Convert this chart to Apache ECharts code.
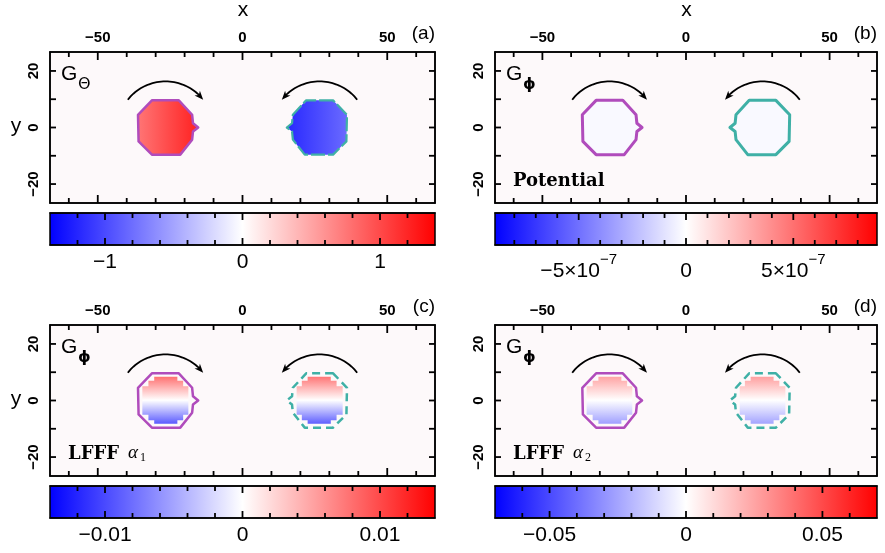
<!DOCTYPE html>
<html><head><meta charset="utf-8">
<script src="https://cdn.jsdelivr.net/npm/echarts@6/dist/echarts.min.js"></script>
<style>html,body{margin:0;padding:0;background:#fff}#c{width:885px;height:553px}</style>
</head><body><div id="c"></div>
<script>
// ---------- data ----------
const panelLetters = ['(a)', '(b)', '(c)', '(d)'];
const fieldSubs = ['Θ', 'ϕ', 'ϕ', 'ϕ'];
const methodNames = ['', 'Potential', 'LFFF', 'LFFF'];
const methodAlphaSub = ['', '', '1', '2'];
const xRange = [-66.5, 66.5];
const yRange = [-26.7, 26.7];
const xMajorTicks = [-50, 0, 50];
const xMinorTicks = [-60, -40, -30, -20, -10, 10, 20, 30, 40, 60];
const yTickValues = [-20, -10, 0, 10, 20];
const yLabelValues = [-20, 0, 20];
const cbMax = [1.4, 8.9e-7, 0.014, 0.07];
const cbMajor = [[-1, 0, 1], [-5e-7, 0, 5e-7], [-0.01, 0, 0.01], [-0.05, 0, 0.05]];
const cbMinor = [
  [-1.2, -0.8, -0.6, -0.4, -0.2, 0.2, 0.4, 0.6, 0.8, 1.2],
  [-8e-7, -7e-7, -6e-7, -4e-7, -3e-7, -2e-7, -1e-7, 1e-7, 2e-7, 3e-7, 4e-7, 6e-7, 7e-7, 8e-7],
  [-0.012, -0.008, -0.006, -0.004, -0.002, 0.002, 0.004, 0.006, 0.008, 0.012],
  [-0.06, -0.04, -0.03, -0.02, -0.01, 0.01, 0.02, 0.03, 0.04, 0.06]
];
// vortex boundaries (x, y)
const vortexLeft = [[-31.3, 9.6], [-22.0, 9.6], [-17.4, 4.5], [-17.1, 1.5], [-15.3, 0], [-17.1, -1.4], [-17.4, -4.3], [-21.5, -9.6], [-31.3, -9.6], [-35.9, -4.9], [-36.1, 4.5]];
const vortexRight = [[31.3, 9.6], [22.0, 9.6], [17.4, 4.5], [17.1, 1.5], [15.3, 0], [17.1, -1.4], [17.4, -4.3], [21.5, -9.6], [31.3, -9.6], [35.9, -4.9], [36.1, 4.5]];
// interior region where the field is non-zero for the LFFF panels
const innerLeft = [[-30.5, 8.4], [-22.5, 8.4], [-22.5, 7], [-20.5, 7], [-20.5, 5], [-18.7, 5], [-18.7, -5], [-20.5, -5], [-20.5, -7], [-22.5, -7], [-22.5, -8.2], [-30.5, -8.2], [-30.5, -7], [-32.5, -7], [-32.5, -5], [-34.6, -5], [-34.6, 5], [-32.5, 5], [-32.5, 7], [-30.5, 7]];
const innerRight = [[30.5, 8.4], [22.5, 8.4], [22.5, 7], [20.5, 7], [20.5, 5], [18.7, 5], [18.7, -5], [20.5, -5], [20.5, -7], [22.5, -7], [22.5, -8.2], [30.5, -8.2], [30.5, -7], [32.5, -7], [32.5, -5], [34.6, -5], [34.6, 5], [32.5, 5], [32.5, 7], [30.5, 7]];
// field values at the two ends of each vortex gradient: [start, end]
// (a): horizontal left->right ; (b): uniform ; (c),(d): vertical top->bottom through 0
const fieldLeft = [[0.76, 1.22], [-2e-8, -2e-8], [0.0078, -0.009], [0.025, -0.026]];
const fieldRight = [[-1.18, -0.82], [-2e-8, -2e-8], [0.0075, -0.0088], [0.026, -0.025]];
const gradDir = ['h', 'h', 'v', 'v'];
// rotation arrows: center x, center y, radius, start angle, end angle (deg)
const arcLeft = [-26.6, 0, 16.3, 143, 37];
const arcRight = [26.6, 0, 16.3, 37, 143];

// ---------- layout ----------
const mainGrids = [
  {left: 50, top: 52, width: 385, height: 151},
  {left: 495, top: 52, width: 382, height: 151},
  {left: 50, top: 325, width: 385, height: 151},
  {left: 495, top: 325, width: 382, height: 151}
];
const cbGrids = [
  {left: 50, top: 213, width: 385, height: 32},
  {left: 495, top: 213, width: 382, height: 32},
  {left: 50, top: 486, width: 385, height: 32},
  {left: 495, top: 486, width: 382, height: 32}
];
const SANS = 'Liberation Sans, Arial, sans-serif';
const MAG = '#b04cbc', TEAL = '#3fb0a6';

function cmap(v, M) {
  const t = Math.max(-1, Math.min(1, v / M));
  if (t >= 0) { const g = Math.round(255 * (1 - t)); return 'rgb(255,' + g + ',' + g + ')'; }
  const g = Math.round(255 * (1 + t)); return 'rgb(' + g + ',' + g + ',255)';
}
const minus = v => String(v).replace('-', '−');

const grids = [];
const xAxes = [];
const yAxes = [];
const series = [];
const graphics = [];

function xAx(gridIndex, min, max, pos, label) {
  return {
    type: 'value', gridIndex, min, max, position: pos, z: 10,
    splitLine: {show: false},
    axisLine: {show: true, onZero: false, lineStyle: {color: '#000', width: 1.5}},
    axisTick: {show: false},
    axisLabel: label ? Object.assign({show: true}, label) : {show: false}
  };
}

// grids: 0-3 main plots, 4-7 colorbars
for (let i = 0; i < 4; i++) grids.push(Object.assign({show: true, borderColor: '#000', borderWidth: 1.5, backgroundColor: '#fdf9fa'}, mainGrids[i]));
for (let i = 0; i < 4; i++) grids.push(Object.assign({show: false}, cbGrids[i]));

// main axes: xAxis 2i (top, labels), 2i+1 (bottom); yAxis 2i (left), 2i+1 (right)
for (let i = 0; i < 4; i++) {
  xAxes.push(xAx(i, xRange[0], xRange[1], 'top', {
    customValues: xMajorTicks, margin: 7, fontFamily: SANS, fontWeight: 'bold', fontSize: 15, color: '#000', formatter: minus
  }));
  xAxes.push(xAx(i, xRange[0], xRange[1], 'bottom', null));
  const yBase = {
    type: 'value', gridIndex: i, min: yRange[0], max: yRange[1], z: 10,
    splitLine: {show: false},
    axisLine: {show: true, onZero: false, lineStyle: {color: '#000', width: 1.5}},
    axisTick: {show: false}
  };
  yAxes.push(Object.assign({}, yBase, {position: 'left',
    axisLabel: {show: true, customValues: yLabelValues, rotate: 90, margin: 9, fontFamily: SANS, fontWeight: 'bold', fontSize: 15, color: '#000', formatter: minus}}));
  yAxes.push(Object.assign({}, yBase, {position: 'right', axisLabel: {show: false}}));
}
// colorbar axes: xAxis 8+2i (top), 9+2i (bottom, labels); yAxis 8+i
for (let i = 0; i < 4; i++) {
  const M = cbMax[i];
  const label = {customValues: cbMajor[i], margin: 7, fontFamily: SANS, fontSize: 21, color: '#000', formatter: minus};
  if (i === 1) {
    label.formatter = function (v) {
      if (Math.abs(v) < 1e-15) return '{n|0}';
      return '{n|' + (v < 0 ? '−' : '') + '5×10}{s|−7}';
    };
    label.rich = {
      n: {fontFamily: SANS, fontSize: 21, color: '#000', lineHeight: 30, verticalAlign: 'bottom'},
      s: {fontFamily: SANS, fontSize: 15, color: '#000', lineHeight: 30, verticalAlign: 'top'}
    };
  }
  xAxes.push(xAx(4 + i, -M, M, 'top', null));
  xAxes.push(xAx(4 + i, -M, M, 'bottom', label));
  yAxes.push({type: 'value', gridIndex: 4 + i, min: 0, max: 1, show: false});
}

// tick marks drawn inward on the frame as thin filled bars, positioned by the axis scales
function tickSeries(xIdx, yIdx, yLo, yHi, xLo, xHi, xMajor, xMinor, majLen, minLen, yTicks, yLen) {
  return {
    type: 'custom', xAxisIndex: xIdx, yAxisIndex: yIdx, silent: true, z: 30, data: [[(xLo + xHi) / 2, (yLo + yHi) / 2]],
    renderItem: function (params, api) {
      const ch = [];
      const hw = 0.9;
      const vbar = (x, y0, y1) => ({type: 'polygon', shape: {points: [[x - hw, y0], [x + hw, y0], [x + hw, y1], [x - hw, y1]]}, style: {fill: '#000'}});
      const hbar = (y, x0, x1) => ({type: 'polygon', shape: {points: [[x0, y - hw], [x1, y - hw], [x1, y + hw], [x0, y + hw]]}, style: {fill: '#000'}});
      const addX = (v, len) => {
        const t = api.coord([v, yHi]), b = api.coord([v, yLo]);
        ch.push(vbar(t[0], t[1], t[1] + len));
        ch.push(vbar(b[0], b[1] - len, b[1]));
      };
      xMajor.forEach(v => addX(v, majLen));
      xMinor.forEach(v => addX(v, minLen));
      (yTicks || []).forEach(v => {
        const l = api.coord([xLo, v]), r = api.coord([xHi, v]);
        ch.push(hbar(l[1], l[0], l[0] + yLen));
        ch.push(hbar(r[1], r[0] - yLen, r[0]));
      });
      return {type: 'group', children: ch};
    }
  };
}

// colorbar series
for (let i = 0; i < 4; i++) {
  const M = cbMax[i];
  series.push({
    type: 'custom', xAxisIndex: 8 + 2 * i, yAxisIndex: 8 + i, silent: true, z: 1, data: [[0, 0.5]],
    renderItem: function (params, api) {
      const p0 = api.coord([-M, 1]);
      const p1 = api.coord([M, 0]);
      return {
        type: 'rect',
        shape: {x: p0[0], y: p0[1], width: p1[0] - p0[0], height: p1[1] - p0[1]},
        style: {
          fill: new echarts.graphic.LinearGradient(0, 0, 1, 0, [
            {offset: 0, color: cmap(-M, M)}, {offset: 0.5, color: cmap(0, M)}, {offset: 1, color: cmap(M, M)}
          ]),
          stroke: '#000', lineWidth: 1.5
        }
      };
    }
  });
  series.push(tickSeries(8 + 2 * i, 8 + i, 0, 1, -M, M, cbMajor[i], cbMinor[i], 7, 5, null, 0));
}

function fillStyle(i, vals) {
  const M = cbMax[i];
  if (gradDir[i] === 'h') {
    return new echarts.graphic.LinearGradient(0, 0, 1, 0, [
      {offset: 0, color: cmap(vals[0], M)}, {offset: 1, color: cmap(vals[1], M)}
    ]);
  }
  return new echarts.graphic.LinearGradient(0, 0, 0, 1, [
    {offset: 0, color: cmap(vals[0], M)}, {offset: 0.5, color: cmap(0, M)}, {offset: 1, color: cmap(vals[1], M)}
  ]);
}

function polySeries(i, pts, style, z) {
  return {
    type: 'custom', xAxisIndex: 2 * i, yAxisIndex: 2 * i, silent: true, z: z, data: [[pts[0][0], pts[0][1]]],
    renderItem: function (params, api) {
      return {type: 'polygon', shape: {points: pts.map(p => api.coord(p))}, style: style};
    }
  };
}

function arcSeries(i, arc) {
  return {
    type: 'custom', xAxisIndex: 2 * i, yAxisIndex: 2 * i, silent: true, z: 5, data: [[arc[0], arc[1]]],
    renderItem: function (params, api) {
      const N = 40, pts = [];
      for (let k = 0; k <= N; k++) {
        const a = (arc[3] + (arc[4] - arc[3]) * k / N) * Math.PI / 180;
        pts.push(api.coord([arc[0] + arc[2] * Math.cos(a), arc[1] + arc[2] * Math.sin(a)]));
      }
      const tip = pts[N], prev = pts[N - 3];
      let dx = tip[0] - prev[0], dy = tip[1] - prev[1];
      const L = Math.hypot(dx, dy); dx /= L; dy /= L;
      const bx = tip[0] - dx * 9, by = tip[1] - dy * 9;
      const head = [tip, [bx - dy * 3.6, by + dx * 3.6], [tip[0] - dx * 6.5, tip[1] - dy * 6.5], [bx + dy * 3.6, by - dx * 3.6]];
      return {
        type: 'group', children: [
          {type: 'polyline', shape: {points: pts.slice(0, N - 1)}, style: {stroke: '#000', lineWidth: 1.8, fill: null}},
          {type: 'polygon', shape: {points: head}, style: {fill: '#000'}}
        ]
      };
    }
  };
}

for (let i = 0; i < 4; i++) {
  const lfff = (i >= 2);
  const fillL = lfff ? innerLeft : vortexLeft;
  const fillR = lfff ? innerRight : vortexRight;
  series.push(polySeries(i, fillL, {fill: fillStyle(i, fieldLeft[i])}, 2));
  series.push(polySeries(i, fillR, {fill: fillStyle(i, fieldRight[i])}, 2));
  const lw = (i === 1) ? 3 : 2.5;
  series.push(polySeries(i, vortexLeft, {fill: null, stroke: MAG, lineWidth: lw, lineJoin: 'round'}, 3));
  series.push(polySeries(i, vortexRight, {
    fill: null, stroke: TEAL, lineWidth: (i === 0 ? 2.2 : lw), lineJoin: 'round',
    lineDash: lfff ? [8, 5] : (i === 0 ? [14, 3] : null)
  }, 3));
  series.push(arcSeries(i, arcLeft));
  series.push(arcSeries(i, arcRight));
  series.push(tickSeries(2 * i, 2 * i, yRange[0], yRange[1], xRange[0], xRange[1], xMajorTicks, xMinorTicks, 8, 5, yTickValues, 6));

  const g = mainGrids[i];
  graphics.push({type: 'text', style: {text: panelLetters[i], x: g.left + g.width, y: g.top - 18, textAlign: 'right', textVerticalAlign: 'middle', font: '19px ' + SANS, fill: '#000'}});
  if (i < 2) graphics.push({type: 'text', style: {text: 'x', x: g.left + g.width / 2 + 0.5, y: g.top - 42, textAlign: 'center', textVerticalAlign: 'middle', font: '21px ' + SANS, fill: '#000'}});
  if (i % 2 === 0) graphics.push({type: 'text', style: {text: 'y', x: 16, y: g.top + g.height / 2 - 1, textAlign: 'center', textVerticalAlign: 'middle', font: '21px ' + SANS, fill: '#000'}});
  graphics.push({type: 'text', style: {text: 'G', x: g.left + 11, y: g.top + 22, textAlign: 'left', textVerticalAlign: 'middle', font: '21px ' + SANS, fill: '#000'}});
  graphics.push({type: 'text', style: {text: fieldSubs[i], x: g.left + 28, y: g.top + 33, textAlign: 'left', textVerticalAlign: 'middle', font: (i === 0 ? '' : 'bold ') + '16px DejaVu Sans, sans-serif', fill: '#000'}});
  if (methodNames[i]) {
    graphics.push({type: 'text', style: {text: methodNames[i], x: g.left + 18, y: g.top + 129, textAlign: 'left', textVerticalAlign: 'middle', font: 'bold 18px DejaVu Serif, serif', fill: '#000'}});
  }
  if (methodAlphaSub[i]) {
    graphics.push({type: 'text', style: {text: 'α', x: g.left + 78, y: g.top + 128, textAlign: 'left', textVerticalAlign: 'middle', font: 'italic 19px Liberation Serif, serif', fill: '#000'}});
    graphics.push({type: 'text', style: {text: methodAlphaSub[i], x: g.left + 90, y: g.top + 133, textAlign: 'left', textVerticalAlign: 'middle', font: '12px Liberation Serif, serif', fill: '#000'}});
  }
}

const chart = echarts.init(document.getElementById('c'), null, {renderer: 'canvas'});
chart.setOption({
  animation: false,
  backgroundColor: '#ffffff',
  grid: grids,
  xAxis: xAxes,
  yAxis: yAxes,
  series: series,
  graphic: graphics
});
</script></body></html>
